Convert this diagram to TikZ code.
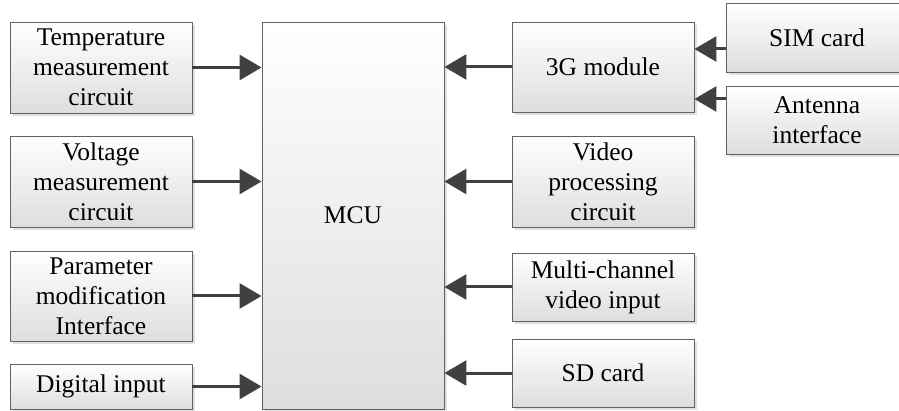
\documentclass[tikz,border=0pt]{standalone}
\usepackage{fontspec}
\setmainfont{Liberation Serif}
\usetikzlibrary{arrows.meta,shadows}

\begin{document}
\begin{tikzpicture}[x=1pt,y=-1pt,
  blk/.style={draw=black!62,line width=0.9pt,shading=axis,top color=white,bottom color=black!13,
    drop shadow={shadow xshift=3pt,shadow yshift=-3pt,fill=black,opacity=0.12},
    align=center,inner sep=0pt,minimum width=182pt,font=\fontsize{25.5}{30}\selectfont},
  arr/.style={line width=3pt,draw=black!75,-{Triangle[length=22pt,width=25pt,fill=black!75]}}]

%Fix the page to the picture size
\useasboundingbox (0,0) rectangle (899,411);

% Left column: inputs to the MCU
\node[blk,minimum height=91pt] (temp) at (101,67.5) {Temperature\\measurement\\circuit};
\node[blk,minimum height=91pt] (volt) at (101,181.5) {Voltage\\measurement\\circuit};
\node[blk,minimum height=90pt] (param) at (101,296) {Parameter\\modification\\Interface};
\node[blk,minimum height=45pt] (dig) at (101,386.5) {Digital input};

% Central controller
\node[blk,minimum height=387pt] (mcu) at (353,215.5) {MCU};

% Right column
\node[blk,minimum height=90pt] (gmod) at (603,67) {3G module};
\node[blk,minimum height=91pt] (vproc) at (603,181.5) {Video\\processing\\circuit};
\node[blk,minimum height=68pt] (multi) at (603,287) {Multi-channel\\video input};
\node[blk,minimum height=68pt] (sd) at (603,373) {SD card};

% Peripherals of the 3G module
\node[blk,minimum height=69pt] (sim) at (817,37.5) {SIM card};
\node[blk,minimum height=68pt] (ant) at (817,120) {Antenna\\interface};

% Arrows into the MCU
\foreach \n in {temp,volt,param,dig}
  \draw[arr] (\n.east) -- (\n.east -| mcu.west);
\foreach \n in {gmod,vproc,multi,sd}
  \draw[arr] (\n.west) -- (\n.west -| mcu.east);

% Arrows into the 3G module
\draw[arr] ([yshift=-11.5pt]sim.west) -- ([yshift=-11.5pt]sim.west -| gmod.east);
\draw[arr] ([yshift=21pt]ant.west) -- ([yshift=21pt]ant.west -| gmod.east);

\end{tikzpicture}
\end{document}
